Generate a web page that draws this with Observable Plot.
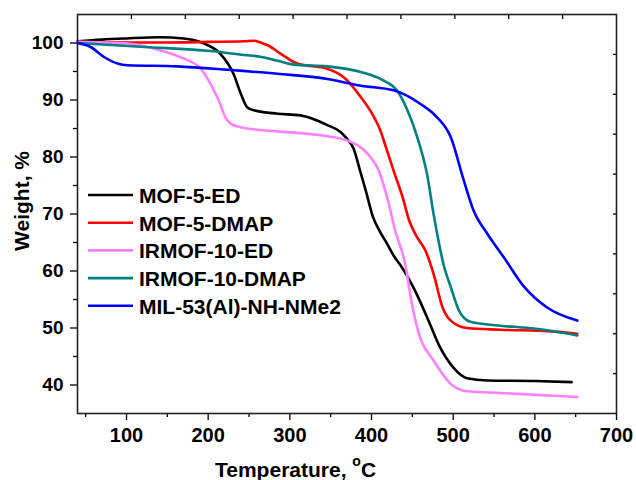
<!DOCTYPE html>
<html>
<head>
<meta charset="utf-8">
<script src="https://cdn.jsdelivr.net/npm/d3@7"></script>
<script src="https://cdn.jsdelivr.net/npm/@observablehq/plot@0.6"></script>
<style>
  html, body { margin: 0; padding: 0; background: #fff; }
  #chart { width: 636px; height: 480px; }
</style>
</head>
<body>
<div id="chart"></div>
<script>
// ---- Data ----
const seriesNames = ["MOF-5-ED", "MOF-5-DMAP", "IRMOF-10-ED", "IRMOF-10-DMAP", "MIL-53(Al)-NH-NMe2"];
const seriesColors = ["#000000", "#ff0000", "#ff80ff", "#008080", "#0000ff"];

const mof5ED_T = [40, 70, 100, 140, 170, 195, 215, 231, 240, 248, 256, 285, 313, 346, 362, 370, 378, 386, 393, 402, 410, 419, 428, 437, 451, 468, 484, 500, 517, 542, 600, 645];
const mof5ED_W = [100.3, 100.6, 100.8, 101.0, 100.8, 99.9, 98.1, 94.6, 91.1, 88.7, 88.2, 87.6, 87.3, 85.6, 84.4, 83.2, 81.5, 77.6, 74.1, 69.4, 67.0, 64.8, 62.5, 60.7, 57.2, 51.9, 46.6, 43.1, 41.2, 40.8, 40.7, 40.5];

const mof5DMAP_T = [40, 100, 150, 200, 244, 256, 264, 273, 289, 309, 346, 366, 387, 403, 411, 415, 427, 438, 446, 456, 466, 476, 487, 497, 517, 558, 619, 652];
const mof5DMAP_W = [100.2, 100.1, 100.1, 100.2, 100.3, 100.4, 100.1, 99.6, 98.1, 96.4, 95.5, 94.0, 90.5, 87.0, 84.6, 82.9, 77.6, 73.0, 68.9, 65.9, 63.6, 59.5, 53.6, 51.3, 50.0, 49.7, 49.4, 49.0];

const irmof10ED_T = [40, 101, 142, 171, 191, 203, 213, 221, 228, 240, 252, 285, 338, 370, 395, 409, 419, 429, 442, 448, 458, 476, 497, 517, 558, 652];
const irmof10ED_W = [100.2, 99.9, 98.7, 97.2, 95.5, 92.8, 89.9, 87.0, 85.8, 85.2, 84.9, 84.5, 83.8, 82.9, 80.6, 77.6, 73.0, 67.1, 60.7, 55.4, 49.0, 44.3, 40.2, 38.9, 38.6, 37.9];

const irmof10DMAP_T = [40, 122, 203, 244, 264, 285, 305, 346, 387, 415, 431, 444, 456, 468, 476, 489, 497, 507, 521, 558, 599, 652];
const irmof10DMAP_W = [100.0, 99.3, 98.6, 97.9, 97.6, 96.9, 96.2, 95.9, 94.9, 93.4, 91.7, 88.2, 83.5, 77.0, 70.0, 60.7, 57.2, 53.1, 51.1, 50.4, 49.9, 48.7];

const mil53_T = [40, 56, 73, 89, 101, 162, 224, 285, 346, 387, 427, 460, 480, 497, 513, 525, 542, 562, 587, 615, 652];
const mil53_W = [100.0, 99.3, 97.5, 96.4, 96.1, 95.9, 95.3, 94.6, 93.7, 92.5, 91.7, 89.3, 87.0, 83.5, 75.9, 70.6, 66.5, 62.4, 57.2, 53.6, 51.3];

// ---- Tick values ----
const xMajorTicks = [100, 200, 300, 400, 500, 600, 700];
const xMinorTicks = [50, 150, 250, 350, 450, 550, 650];
const yMajorTicks = [40, 50, 60, 70, 80, 90, 100];
const yMinorTicks = [45, 55, 65, 75, 85, 95];
const topTicks = [106, 172, 238, 304, 370, 436, 502, 568, 634];
const rightTicks = [42, 49, 56, 63, 70, 77, 84, 91, 98];

// ---- Build table ----
const seriesT = [mof5ED_T, mof5DMAP_T, irmof10ED_T, irmof10DMAP_T, mil53_T];
const seriesW = [mof5ED_W, mof5DMAP_W, irmof10ED_W, irmof10DMAP_W, mil53_W];
const rows = [];
seriesNames.forEach((name, i) => {
  seriesT[i].forEach((t, j) => rows.push({series: name, T: t, W: seriesW[i][j]}));
});

const FONT = "Arial, 'Liberation Sans', sans-serif";

const plot = Plot.plot({
  width: 636,
  height: 480,
  marginLeft: 77,
  marginRight: 20,
  marginTop: 14,
  marginBottom: 67,
  style: {fontFamily: FONT, background: "#fff", overflow: "visible"},
  x: {domain: [40, 700], label: null},
  y: {domain: [35, 105], label: null},
  color: {domain: seriesNames, range: seriesColors},
  marks: [
    Plot.axisX(xMajorTicks, {anchor: "bottom", tickSize: 7, tickPadding: 7, fontSize: 20, fontWeight: "bold", fill: "#000", strokeWidth: 1.3, label: null}),
    Plot.axisX(xMinorTicks, {anchor: "bottom", tickSize: 4, tickFormat: () => "", strokeWidth: 1.3, label: null}),
    Plot.axisY(yMajorTicks, {anchor: "left", tickSize: 7, tickPadding: 7, fontSize: 19, fontWeight: "bold", fill: "#000", strokeWidth: 1.3, label: null}),
    Plot.axisY(yMinorTicks, {anchor: "left", tickSize: 4, tickFormat: () => "", strokeWidth: 1.3, label: null}),
    Plot.axisX(topTicks, {anchor: "top", tickSize: -4, tickFormat: () => "", strokeWidth: 1.3, label: null}),
    Plot.axisY(rightTicks, {anchor: "right", tickSize: -4, tickFormat: () => "", strokeWidth: 1.3, label: null}),
    Plot.line(rows, {x: "T", y: "W", z: "series", stroke: "series", strokeWidth: 2.6, curve: "monotone-x"}),
    Plot.frame({stroke: "#222", strokeWidth: 1.6})
  ]
});

document.getElementById("chart").appendChild(plot);

// ---- Axis titles and legend (real text) ----
const svg = d3.select(plot);

svg.append("text")
  .attr("transform", "translate(29,201) rotate(-90)")
  .attr("text-anchor", "middle")
  .attr("font-family", FONT).attr("font-weight", "bold").attr("font-size", 21)
  .attr("fill", "#000")
  .text("Weight, %");

const xl = svg.append("text")
  .attr("x", 215).attr("y", 477)
  .attr("text-anchor", "start")
  .attr("font-family", FONT).attr("font-weight", "bold").attr("font-size", 21)
  .attr("fill", "#000");
xl.append("tspan").text("Temperature, ");
xl.append("tspan").attr("font-size", 14).attr("dy", -11).text("o");
xl.append("tspan").attr("dy", 11).text("C");

const legend = svg.append("g").attr("text-anchor", "start");
seriesNames.forEach((name, i) => {
  const y = 195 + i * 27.7;
  legend.append("line")
    .attr("x1", 88).attr("x2", 133).attr("y1", y).attr("y2", y)
    .attr("stroke", seriesColors[i]).attr("stroke-width", 2.6);
  legend.append("text")
    .attr("x", 139).attr("y", y + 8)
    .attr("text-anchor", "start")
    .attr("font-family", FONT).attr("font-weight", "bold").attr("font-size", 21)
    .attr("fill", "#000")
    .text(name);
});
</script>
</body>
</html>
